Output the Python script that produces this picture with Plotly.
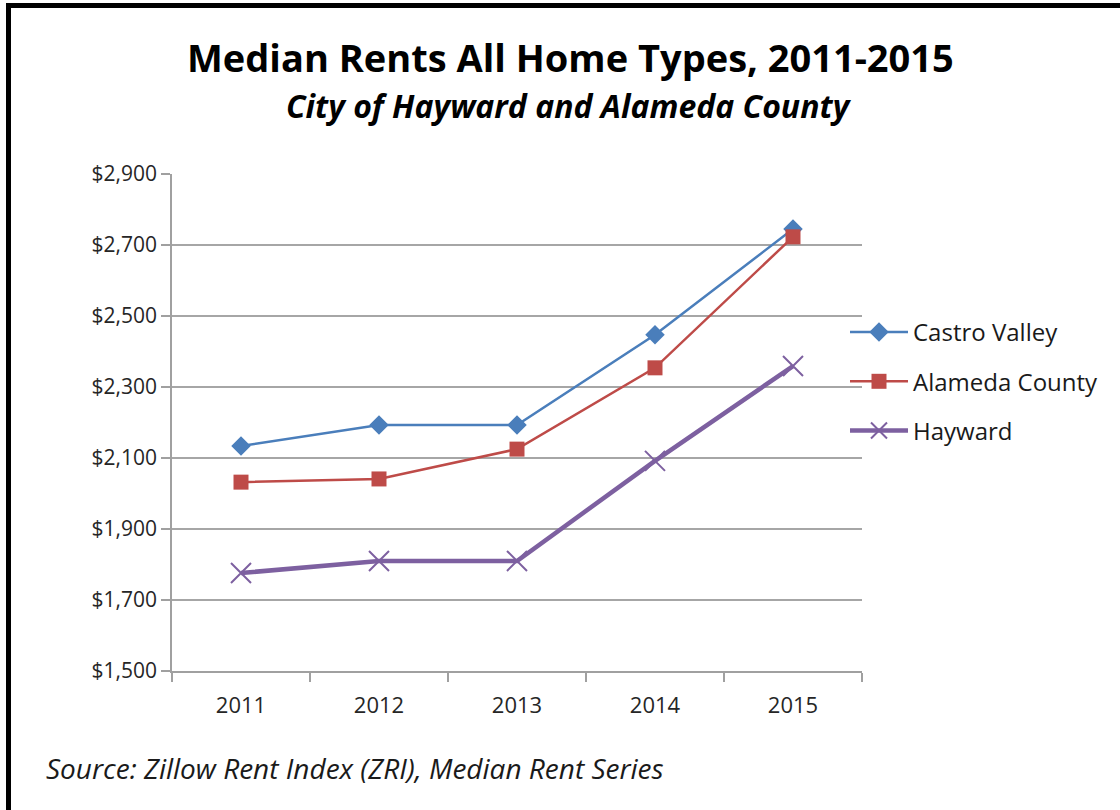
import plotly.graph_objects as go

years = ["2011", "2012", "2013", "2014", "2015"]
castro_valley = [2134, 2193, 2193, 2447, 2745]
alameda_county = [2032, 2041, 2125, 2354, 2723]
hayward = [1776, 1810, 1810, 2092, 2359]
y_ticks = [1500, 1700, 1900, 2100, 2300, 2500, 2700, 2900]
y_tick_labels = ["$1,500", "$1,700", "$1,900", "$2,100", "$2,300", "$2,500", "$2,700", "$2,900"]

FONT = "Open Sans"
W, H = 1120, 810
L, R, T, B = 172, 258, 174, 139
pw, ph = W - L - R, H - T - B


def px_x(px):
    return (px - L) / pw


def px_y(py):
    return (H - B - py) / ph


fig = go.Figure()
fig.add_trace(go.Scatter(
    x=years, y=castro_valley, name="Castro Valley", mode="lines+markers",
    line=dict(color="#4A7EBB", width=2.5),
    marker=dict(symbol="diamond", size=15, color="#4A7EBB"),
    legendgroup="a"))
fig.add_trace(go.Scatter(
    x=years, y=alameda_county, name="Alameda County", mode="lines+markers",
    line=dict(color="#BE4B48", width=2.5),
    marker=dict(symbol="square", size=15, color="#BE4B48"),
    legendgroup="b"))
fig.add_trace(go.Scatter(
    x=years, y=hayward, name="Hayward", mode="lines+markers",
    line=dict(color="#7D60A0", width=4.5),
    marker=dict(symbol="x-thin-open", size=20, color="#7D60A0",
                line=dict(color="#7D60A0", width=2)),
    legendgroup="c"))

fig.update_layout(
    width=W, height=H,
    margin=dict(l=L, r=R, t=T, b=B, autoexpand=False),
    paper_bgcolor="white", plot_bgcolor="white",
    font=dict(family=FONT, color="#262626"),
    showlegend=True,
    legend=dict(x=px_x(845), y=px_y(310), xanchor="left", yanchor="top",
                font=dict(family=FONT, size=24, color="#1a1a1a"),
                itemwidth=58,
                tracegroupgap=15, traceorder="grouped",
                bgcolor="rgba(0,0,0,0)"),
    xaxis=dict(type="category", range=[-0.5, 4.5], showgrid=False,
               showline=True, linecolor="#A0A0A0", linewidth=1.5,
               ticks="outside", tickson="boundaries", ticklen=9,
               tickcolor="#A0A0A0", tickwidth=1.5, ticklabelstandoff=14,
               tickfont=dict(family=FONT, size=22, color="#262626")),
    yaxis=dict(range=[1500, 2900], tickvals=y_ticks, ticktext=y_tick_labels,
               showgrid=True, gridcolor="#A6A6A6", gridwidth=1.5,
               showline=True, linecolor="#A0A0A0", linewidth=1.5,
               ticks="outside", ticklen=9, tickcolor="#A0A0A0", tickwidth=1.5,
               zeroline=False,
               tickfont=dict(family=FONT, size=21, color="#262626")),
    annotations=[
        dict(text="<b>Median Rents All Home Types, 2011-2015</b>",
             xref="paper", yref="paper", x=px_x(570), y=px_y(57),
             xanchor="center", yanchor="middle", showarrow=False,
             font=dict(family=FONT, size=38, color="#000000")),
        dict(text="<b><i>City of Hayward and Alameda County</i></b>",
             xref="paper", yref="paper", x=px_x(569), y=px_y(105),
             xanchor="center", yanchor="middle", showarrow=False,
             font=dict(family=FONT, size=32, color="#000000")),
        dict(text="<i>Source: Zillow Rent Index (ZRI), Median Rent Series</i>",
             xref="paper", yref="paper", x=px_x(44), y=px_y(768),
             xanchor="left", yanchor="middle", showarrow=False,
             font=dict(family=FONT, size=28, color="#1a1a1a")),
    ],
    shapes=[
        dict(type="line", xref="paper", yref="paper",
             x0=px_x(6), x1=px_x(1125), y0=px_y(5.5), y1=px_y(5.5),
             line=dict(color="black", width=5)),
        dict(type="line", xref="paper", yref="paper",
             x0=px_x(8.5), x1=px_x(8.5), y0=px_y(3), y1=px_y(815),
             line=dict(color="black", width=5)),
    ],
)

fig.write_html("out.html", config={"displayModeBar": False},
               post_script="document.body.style.margin='0';")
